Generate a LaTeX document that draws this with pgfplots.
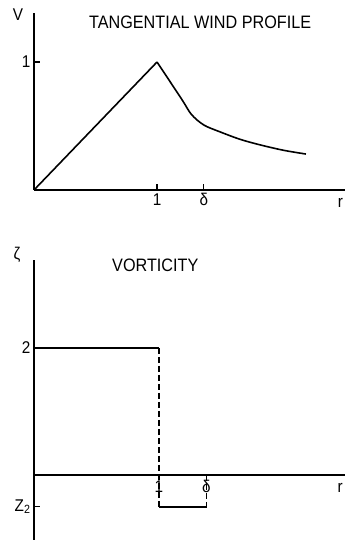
\documentclass[border=0pt]{standalone}
\usepackage{pgfplots}
\pgfplotsset{compat=1.18}
\usepackage{fontspec}
\setmainfont[FakeStretch=0.9]{Liberation Sans}

\begin{document}
\begin{tikzpicture}[x=1pt,y=1pt]
\useasboundingbox (0,0) rectangle (345,541);

% tangential wind profile
\begin{axis}[
  at={(34pt,351pt)}, anchor=south west,
  scale only axis, width=311pt, height=177pt,
  xmin=0, xmax=2.528, ymin=0, ymax=1.383,
  axis lines=left, axis line style={-, line width=1.4pt},
  xtick={1,1.38}, xticklabels={1,δ},
  ytick={1}, yticklabels={1},
  tick align=inside, major tick length=6pt,
  tick style={line width=1.4pt, black},
  font=\fontsize{17}{17}\selectfont,
  clip=false,
]
\addplot[black, line width=1.6pt] coordinates {(0,0) (1,1)};
\addplot[black, line width=1.6pt, smooth, tension=0.5] coordinates {
  (1,1) (1.2,0.71) (1.28,0.59) (1.38,0.508)
  (1.51,0.455) (1.675,0.396) (1.84,0.352) (2.03,0.31) (2.21,0.281)};
\node at (axis cs:-0.13,1.367) {V};
\node[font=\fontsize{18}{18}\selectfont] at (axis cs:1.35,1.31) {TANGENTIAL WIND PROFILE};
\node at (axis cs:2.49,-0.10) {r};
\end{axis}

% vorticity
\begin{axis}[
  at={(34pt,1pt)}, anchor=south west,
  scale only axis, width=311pt, height=280pt,
  xmin=0, xmax=2.488, ymin=-1.024, ymax=3.386,
  axis x line=middle, axis y line=left,
  axis line style={-, line width=1.4pt},
  xtick={1,1.38}, xticklabels={1,δ},
  x tick style={draw=none},
  xticklabel style={yshift=-2pt},
  ytick={-0.5,2}, yticklabels={Z\textsubscript{2},2},
  tick align=inside, major tick length=6pt,
  tick style={line width=1.4pt, black},
  font=\fontsize{17}{17}\selectfont,
  clip=false,
]
\addplot[black, line width=1.6pt] coordinates {(0,2) (1,2)};
\addplot[black, line width=1.2pt, dash pattern=on 6pt off 3pt] coordinates {(1,2) (1,-0.5)};
\addplot[black, line width=1.6pt] coordinates {(1,-0.5) (1.38,-0.5)};
\addplot[black, line width=1.2pt, dash pattern=on 6pt off 3pt] coordinates {(1.38,0) (1.38,-0.5)};
\node at (axis cs:-0.136,3.46) {ζ};
\node[font=\fontsize{18}{18}\selectfont] at (axis cs:0.97,3.31) {VORTICITY};
\node at (axis cs:2.45,-0.205) {r};
\end{axis}
\end{tikzpicture}
\end{document}
